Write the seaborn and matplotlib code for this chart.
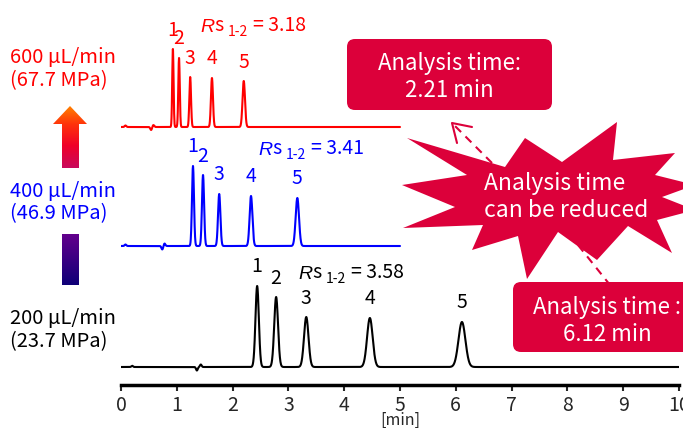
import numpy as np
import pandas as pd
import matplotlib
matplotlib.use("Agg")
import matplotlib.pyplot as plt
import seaborn as sns
from matplotlib.patches import FancyBboxPatch, Polygon
from matplotlib.colors import LinearSegmentedColormap

sns.set_style("white")
plt.rcParams["font.family"] = ["Noto Sans CJK JP", "DejaVu Sans"]

# peak tables: retention time [min], height, sigma [min]
peak_names = ["1", "2", "3", "4", "5"]
rt_600 = [0.93, 1.04, 1.24, 1.63, 2.20]
h_600 = [78, 69, 50, 49, 46]
w_600 = [0.012, 0.013, 0.015, 0.018, 0.022]
rt_400 = [1.29, 1.47, 1.76, 2.33, 3.16]
h_400 = [80, 71, 52, 50, 48]
w_400 = [0.018, 0.019, 0.021, 0.025, 0.030]
rt_200 = [2.44, 2.78, 3.32, 4.46, 6.11]
h_200 = [81, 70, 50, 49, 45]
w_200 = [0.030, 0.034, 0.040, 0.050, 0.062]

# small baseline disturbances (start / injection)
dist_t_600 = [0.08, 0.54, 0.58]
dist_h_600 = [1.5, -3.0, 2.0]
dist_t_400 = [0.08, 0.74, 0.78]
dist_h_400 = [1.5, -3.5, 2.5]
dist_t_200 = [0.20, 1.36, 1.43]
dist_h_200 = [1.2, -3.5, 2.5]

flow_labels = ["600 µL/min\n(67.7 MPa)", "400 µL/min\n(46.9 MPa)", "200 µL/min\n(23.7 MPa)"]
rs_values = ["3.18", "3.41", "3.58"]
run_end = [5, 5, 10]
time_600 = "2.21 min"
time_200 = "6.12 min"
xticks = list(range(11))

colors = ["#ff0000", "#0000ff", "#000000"]
crimson = "#dc003a"
offsets = [258, 139, 18]


def trace(t, rts, hs, ws, dts, dhs):
    y = np.zeros_like(t)
    for r, h, w in zip(rts, hs, ws):
        y += h * np.exp(-0.5 * ((t - r) / w) ** 2)
    for r, h in zip(dts, dhs):
        y += h * np.exp(-0.5 * ((t - r) / 0.015) ** 2)
    return y


tables = [
    (rt_600, h_600, w_600, dist_t_600, dist_h_600),
    (rt_400, h_400, w_400, dist_t_400, dist_h_400),
    (rt_200, h_200, w_200, dist_t_200, dist_h_200),
]

frames = []
for k, (rts, hs, ws, dts, dhs) in enumerate(tables):
    t = np.linspace(0, run_end[k], 400 * run_end[k] + 1)
    frames.append(pd.DataFrame({"time": t,
                                "signal": trace(t, rts, hs, ws, dts, dhs) + offsets[k],
                                "run": flow_labels[k]}))
df = pd.concat(frames)

fig = plt.figure(figsize=(6.83, 4.28), dpi=100)
ax = fig.add_axes([121 / 683, 43 / 428, 558 / 683, 385 / 428])
sns.lineplot(data=df, x="time", y="signal", hue="run", palette=dict(zip(flow_labels, colors)),
             estimator=None, sort=False, legend=False, linewidth=1.5, ax=ax)
ax.set_xlim(0, 10)
ax.set_ylim(0, 385)
ax.set_xticks(xticks)
ax.set_yticks([])
ax.set_ylabel("")
ax.set_xlabel("[min]", fontsize=11.5, labelpad=-2.5)
for s in ["top", "right", "left"]:
    ax.spines[s].set_visible(False)
ax.spines["bottom"].set_linewidth(2.5)
ax.spines["bottom"].set_color("black")
ax.tick_params(axis="x", direction="out", length=4, width=1.5, labelsize=14, pad=3, bottom=True)
ax.patch.set_alpha(0)

# peak numbers
for k, (rts, hs, ws, dts, dhs) in enumerate(tables):
    for name, r, h in zip(peak_names, rts, hs):
        ax.annotate(name, xy=(r, h + offsets[k]), xytext=(0, 19), textcoords="offset pixels",
                    ha="center", va="center", fontsize=14, color=colors[k])

ov = fig.add_axes([0, 0, 1, 1])
ov.set_xlim(0, 683)
ov.set_ylim(428, 0)
ov.axis("off")


def rs_label(x, y, value, color):
    a = ov.text(x, y, "R", fontsize=14, color=color, style="italic",
                family=["Liberation Sans"], va="baseline")
    b = ov.annotate("s", xy=(1, 0), xycoords=a, fontsize=14, color=color, va="bottom")
    c = ov.annotate("1-2", xy=(1, 0), xycoords=b, xytext=(4, -3), textcoords="offset pixels",
                    fontsize=10, color=color, va="bottom")
    ov.annotate("= " + value, xy=(1, 0), xycoords=c, xytext=(5, 3), textcoords="offset pixels",
                fontsize=14, color=color, va="bottom")


rs_pos = [(200, 32), (258, 155), (298, 279)]
for k in range(3):
    rs_label(rs_pos[k][0], rs_pos[k][1], rs_values[k], colors[k])

label_y = [69, 202.5, 330]
for k in range(3):
    ov.text(10, label_y[k], flow_labels[k], fontsize=14.5, color=colors[k], ha="left", va="center",
            linespacing=1.12)

# gradient arrow on the left
cmap = LinearSegmentedColormap.from_list("flow", [
    (0.0, (1.0, 0.5, 0.0)), (0.10, (1.0, 0.2, 0.04)), (0.22, (0.94, 0.0, 0.16)),
    (0.35, (0.78, 0.04, 0.37)), (0.715, (0.39, 0.0, 0.55)), (1.0, (0.06, 0.0, 0.47))])
grad = np.linspace(0, 1, 256).reshape(-1, 1)
head = Polygon([(70, 106), (87, 124), (79, 124), (79, 168), (62, 168), (62, 124), (53, 124)],
               closed=True, facecolor="none", edgecolor="none")
tail = Polygon([(62, 234), (79, 234), (79, 285), (62, 285)], closed=True,
               facecolor="none", edgecolor="none")
for clip in [head, tail]:
    ov.add_patch(clip)
    im = ov.imshow(grad, cmap=cmap, extent=(53, 87, 285, 106), origin="upper", aspect="auto",
                   interpolation="bilinear")
    im.set_clip_path(clip)

# dashed arrows
ov.plot([492, 454], [163, 125], color=crimson, lw=1.5, ls=(0, (4, 3)), zorder=1)
ov.plot([457, 452, 472], [143, 123, 127], color=crimson, lw=1.5, zorder=1)
ov.plot([578, 610], [245, 285], color=crimson, lw=1.5, ls=(0, (4, 3)), zorder=1)

# starburst
burst = [(407, 138), (505, 167), (525, 138), (562, 162), (617, 122), (613, 160), (675, 153),
         (655, 175), (695, 185), (662, 197), (695, 210), (657, 220), (672, 253), (628, 226),
         (597, 260), (558, 232), (527, 279), (518, 236), (472, 250), (483, 225), (403, 228),
         (455, 207), (402, 185), (467, 175)]
ov.add_patch(Polygon(burst, closed=True, facecolor=crimson, edgecolor="none", zorder=2))
ov.text(484, 197, "Analysis time\ncan be reduced", fontsize=16.5, color="white", ha="left",
        va="center", linespacing=1.25, zorder=5)

# boxes
ov.add_patch(FancyBboxPatch((347, 39), 205, 71, boxstyle="round,pad=0,rounding_size=8",
                            facecolor=crimson, edgecolor="none", zorder=3))
ov.text(449, 77, "Analysis time:\n" + time_600, fontsize=16, color="white", ha="center",
        va="center", linespacing=1.17, zorder=5)
ov.add_patch(FancyBboxPatch((513, 282), 200, 70, boxstyle="round,pad=0,rounding_size=8",
                            facecolor=crimson, edgecolor="none", zorder=3))
ov.text(607, 321, "Analysis time :\n" + time_200, fontsize=16, color="white", ha="center",
        va="center", linespacing=1.17, zorder=5)

ov.set_xlim(0, 683)
ov.set_ylim(428, 0)
fig.savefig("out.png", dpi=100)
